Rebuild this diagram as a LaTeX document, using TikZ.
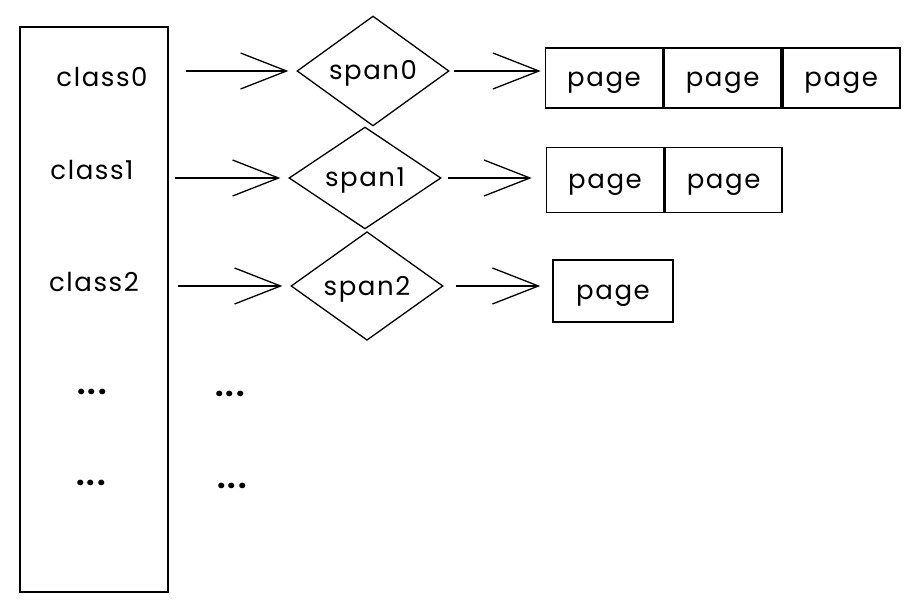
\documentclass[tikz,border=0pt]{standalone}
\usepackage{fontspec}
\setmainfont{Poppins}[LetterSpace=6]
\usetikzlibrary{arrows.meta,positioning,shapes.geometric}

\begin{document}
\begin{tikzpicture}[x=1pt,y=-1pt,
  font=\fontsize{26}{30}\selectfont,
  every node/.style={inner sep=0pt},
  lowtext/.style={text height=20pt,text depth=2pt},
  dots/.style={font=\fontsize{30}{30}\selectfont\bfseries},
  spanbox/.style={draw,diamond,lowtext,minimum width=152pt,minimum height=100pt,line width=1.3pt},
  pagebox/.style={draw,rectangle,lowtext,minimum width=117pt,minimum height=62pt,line width=1.6pt},
  arr/.style={line width=1.3pt,-{Straight Barb[length=46pt,width=36pt]}}]

\useasboundingbox (0,0) rectangle (918,612);

% Draw class table
\node[draw,line width=1.6pt,minimum width=148pt,minimum height=565pt] (classes) at (94,309.5) {};
\node (class0) at (102,77) {class0};
\node (class1) at (92,170) {class1};
\node (class2) at (94,282) {class2};
\node[dots] (dots0) at (92,392) {...};
\node[dots] (dots1) at (91,483) {...};
\node[dots] (dots2) at (230,394) {...};
\node[dots] (dots3) at (232,486) {...};

% Draw spans
\node[spanbox] (span0) at (373,71) {span0};
\node[spanbox] (span1) at (365,178) {span1};
\node[spanbox] (span2) at (367,286) {span2};

% Draw pages
\node[pagebox,minimum height=60pt] (page00) at (604,78) {page};
\node[pagebox,minimum height=60pt,right=0pt of page00] (page01) {page};
\node[pagebox,minimum height=60pt,right=0pt of page01] (page02) {page};
\node[pagebox,minimum height=65pt] (page10) at (605,180) {page};
\node[pagebox,minimum height=65pt,right=0pt of page10] (page11) {page};
\node[pagebox,minimum width=120pt] (page20) at (613,291) {page};

% Arrows
\foreach \i/\gap in {0/17,1/6,2/9}
  \draw[arr,shorten <=\gap pt,shorten >=8pt] (classes.east |- span\i.west) -- (span\i.west);
\foreach \i/\p/\a/\b in {0/00/4/4,1/10/6/14,2/20/12/12}
  \draw[arr,shorten <=\a pt,shorten >=\b pt] (span\i.east) -- (span\i.east -| page\p.west);
\end{tikzpicture}
\end{document}
